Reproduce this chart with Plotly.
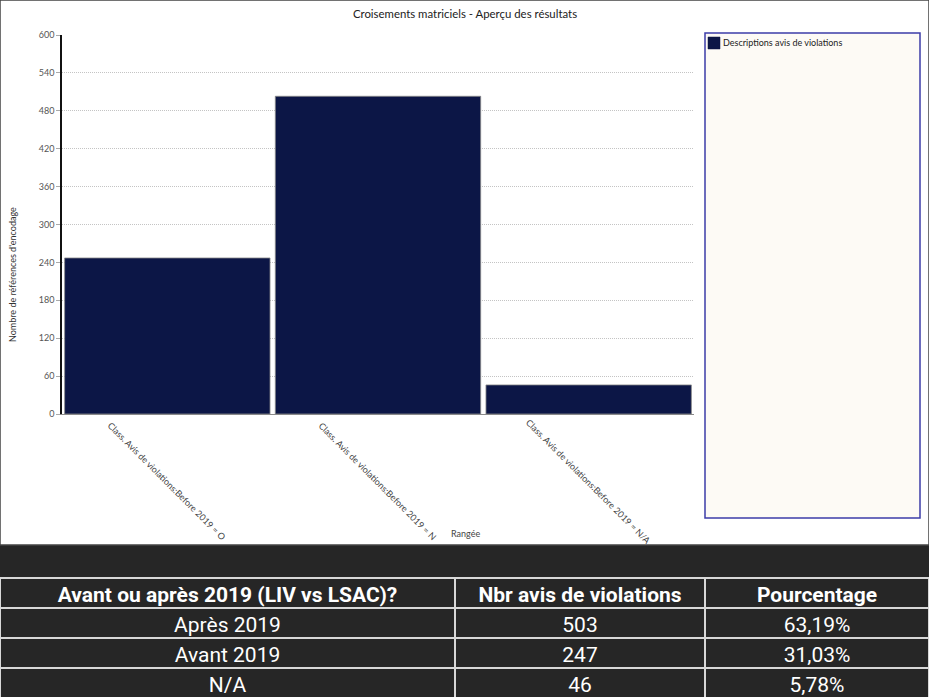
import plotly.graph_objects as go

W, H = 929, 697

categories = [
    "Class. Avis de violations:Before 2019 = O",
    "Class. Avis de violations:Before 2019 = N",
    "Class. Avis de violations:Before 2019 = N/A",
]
values = [247, 503, 46]
series_name = "Descriptions avis de violations"

table_header = ["Avant ou après 2019 (LIV vs LSAC)?", "Nbr avis de violations", "Pourcentage"]
table_col1 = ["Après 2019", "Avant 2019", "N/A"]
table_col2 = ["503", "247", "46"]
table_col3 = ["63,19%", "31,03%", "5,78%"]

title_text = "Croisements matriciels - Aperçu des résultats"
y_title = "Nombre de références d'encodage"
x_title = "Rangée"

BAR = "#0c1646"
DARK = "#262626"


def px(x):
    return x / W


def py(y):
    return 1 - y / H


fig = go.Figure()
fig.add_trace(go.Bar(
    x=list(range(len(categories))), y=values, name=series_name,
    marker=dict(color=BAR, line=dict(color="#8a8a8a", width=0.8)),
    showlegend=False, hoverinfo="y",
))

fig.add_trace(go.Table(
    domain=dict(x=[0, 1], y=[0, py(578)]),
    columnwidth=[455, 250, 224],
    header=dict(values=table_header,
                fill_color=DARK, line=dict(color="#d8d8d8", width=1.2),
                font=dict(family="Roboto", size=21, color="white", weight="bold"),
                align="center", height=30),
    cells=dict(values=[table_col1, table_col2, table_col3],
               fill_color=DARK, line=dict(color="#d8d8d8", width=1.2),
               font=dict(family="Roboto", size=21, color="white"),
               align="center", height=30),
))

shapes = [
    dict(type="rect", xref="paper", yref="paper", x0=0, x1=1, y0=py(545), y1=1,
         fillcolor="white", line=dict(color="#444444", width=1.5), layer="below"),
    dict(type="rect", xref="paper", yref="paper", x0=px(705), x1=px(920), y0=py(518), y1=py(33),
         fillcolor="#fdfaf5", line=dict(color="#3c3ca8", width=1.5), layer="below"),
    dict(type="rect", xref="paper", yref="paper", x0=px(708), x1=px(720), y0=py(49), y1=py(37),
         fillcolor=BAR, line=dict(color=BAR, width=0.5), layer="above"),
]

annotations = [
    dict(text=series_name, xref="paper", yref="paper", x=px(721), y=py(43),
         xanchor="left", yanchor="middle", showarrow=False,
         font=dict(family="Lato", size=9, color="#222222")),
    dict(text=y_title, xref="paper", yref="paper", x=px(12), y=py(275),
         xanchor="center", yanchor="middle", textangle=-90, showarrow=False,
         font=dict(family="Lato", size=9, color="#333333")),
    dict(text=x_title, xref="paper", yref="paper", x=px(465), y=py(533),
         xanchor="center", yanchor="middle", showarrow=False,
         font=dict(family="Lato", size=9, color="#444444")),
]
for i, c in enumerate(categories):
    annotations.append(dict(text=c, xref="x", yref="paper", x=i, y=py(481),
                            xanchor="center", yanchor="middle", textangle=45,
                            showarrow=False,
                            font=dict(family="Lato", size=9, color="#444444")))

fig.update_layout(
    width=W, height=H,
    margin=dict(l=0, r=0, t=0, b=0, pad=0, autoexpand=False),
    paper_bgcolor=DARK, plot_bgcolor="rgba(0,0,0,0)",
    title=dict(text=title_text, x=px(465), y=py(14), xanchor="center", yanchor="middle",
               font=dict(family="Lato", size=11.4, color="#222222")),
    bargap=0.025,
    xaxis=dict(domain=[px(62), px(694)], range=[-0.5, 2.5], showticklabels=False,
               showgrid=False, zeroline=False, showline=True, linecolor="#8a8a8a",
               linewidth=1, ticks="", automargin=False),
    yaxis=dict(domain=[py(414), py(35)], range=[0, 600], dtick=60, tick0=0,
               showgrid=True, gridcolor="#c4c4c4", griddash="1px,1px", gridwidth=1,
               zeroline=False, showline=True, linecolor="#111111", linewidth=1.5,
               ticks="outside", ticklen=4, tickcolor="#aaaaaa", automargin=False,
               tickfont=dict(family="Lato", size=9, color="#555555")),
    shapes=shapes, annotations=annotations,
    showlegend=False,
)

fig.write_html(
    "out.html",
    config={"displayModeBar": False},
    post_script="document.body.style.margin='0';document.body.style.overflow='hidden';",
)
